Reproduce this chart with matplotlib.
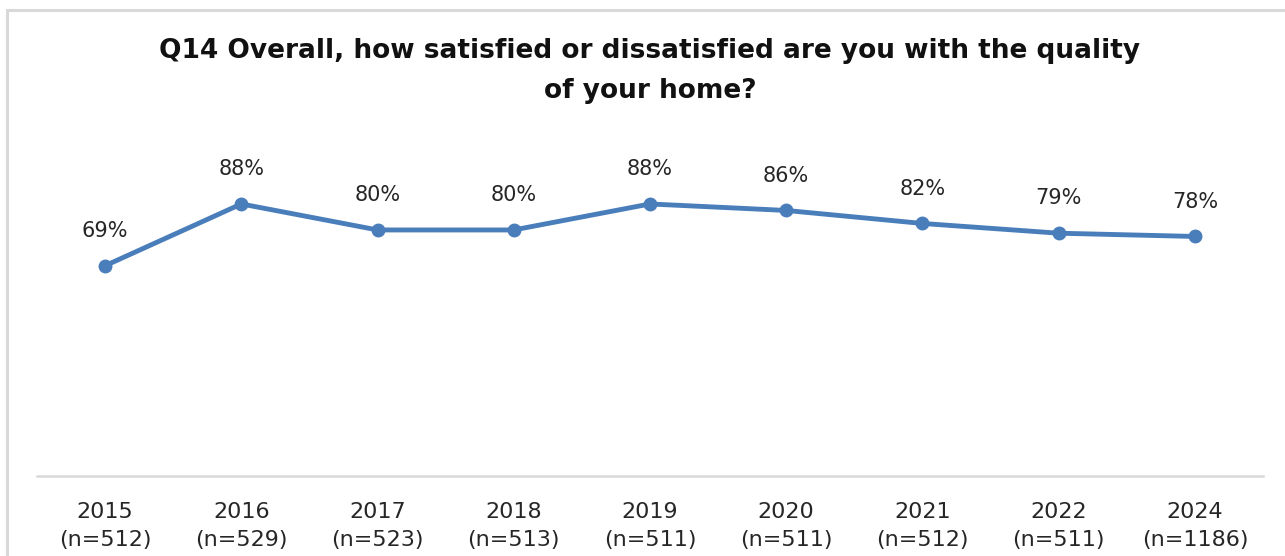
import matplotlib
matplotlib.use("Agg")
import matplotlib.pyplot as plt
from matplotlib.patches import Rectangle

# survey results
years = ["2015", "2016", "2017", "2018", "2019", "2020", "2021", "2022", "2024"]
sample_sizes = [512, 529, 523, 513, 511, 511, 512, 511, 1186]
satisfied_pct = [69, 88, 80, 80, 88, 86, 82, 79, 78]

title = "Q14 Overall, how satisfied or dissatisfied are you with the quality\nof your home?"

line_color = "#4a7ebb"
axis_grey = "#d9d9d9"

fig = plt.figure(figsize=(12.85, 5.56), dpi=100)

# light grey chart border (left and top edges visible)
fig.patches.append(Rectangle((7 / 1285, -0.1), 1.2, 1.1 - 10 / 556,
                             transform=fig.transFigure, fill=False,
                             edgecolor=axis_grey, linewidth=2.2))

ax = fig.add_axes([37 / 1285, 1 - 476 / 556, 1226 / 1285, 326 / 556])
x = list(range(len(years)))
ax.plot(x, satisfied_pct, color=line_color, linewidth=3.5,
        marker="o", markersize=9, solid_capstyle="round")

for xi, v in zip(x, satisfied_pct):
    ax.annotate(f"{v}%", (xi, v), xytext=(0, 25), textcoords="offset points",
                ha="center", va="center", fontsize=15, color="#262626")

ax.set_xlim(-0.5, len(years) - 0.5)
ax.set_ylim(4.3, 104.6)
ax.set_yticks([])
ax.set_xticks(x)
ax.set_xticklabels([f"{y}\n(n={n})" for y, n in zip(years, sample_sizes)],
                   fontsize=16, color="#262626", linespacing=1.5)
ax.tick_params(axis="x", length=0, pad=19)

for side in ["top", "right", "left"]:
    ax.spines[side].set_visible(False)
ax.spines["bottom"].set_color(axis_grey)
ax.spines["bottom"].set_linewidth(1.8)

fig.text(650 / 1285, 1 - 71 / 556, title, ha="center", va="center",
         fontsize=19, fontweight="bold", color="#111111", linespacing=1.7)

fig.savefig("out.png", dpi=100)
